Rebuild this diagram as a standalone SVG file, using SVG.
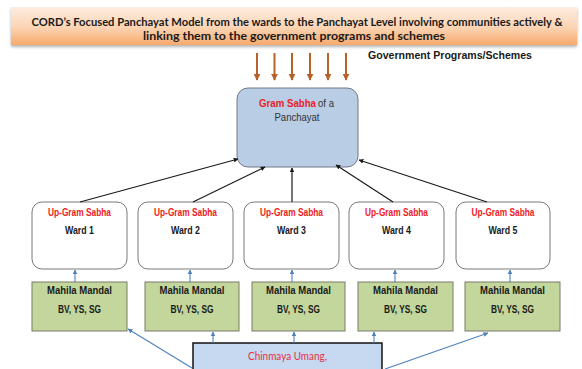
<svg xmlns="http://www.w3.org/2000/svg" width="582" height="369" viewBox="0 0 582 369">
<defs>
  <linearGradient id="hdr" x1="0" y1="0" x2="0" y2="1">
    <stop offset="0" stop-color="#FDEDE1"/>
    <stop offset="0.55" stop-color="#FBD3B2"/>
    <stop offset="1" stop-color="#F7A96B"/>
  </linearGradient>
  <filter id="sh" x="-5%" y="-20%" width="110%" height="160%">
    <feGaussianBlur in="SourceAlpha" stdDeviation="1.5"/>
    <feOffset dx="0" dy="2" result="b"/>
    <feComponentTransfer><feFuncA type="linear" slope="0.3"/></feComponentTransfer>
    <feMerge><feMergeNode/><feMergeNode in="SourceGraphic"/></feMerge>
  </filter>
  <marker id="ab" viewBox="0 0 10 10" refX="9" refY="5" markerWidth="4" markerHeight="4" orient="auto">
    <path d="M0,0 L10,5 L0,10 z" fill="#1a1a1a"/>
  </marker>
  <marker id="abl" viewBox="0 0 10 10" refX="9" refY="5" markerWidth="4.5" markerHeight="4.5" orient="auto">
    <path d="M0,0 L10,5 L0,10 z" fill="#4F81BD"/>
  </marker>
  <marker id="aor" viewBox="0 0 10 10" refX="9" refY="5" markerWidth="3.5" markerHeight="3.5" orient="auto">
    <path d="M0,0 L10,5 L0,10 z" fill="#B8612A"/>
  </marker>
</defs>
<style>
  .hdr { font-family: Lato, "Open Sans", "Liberation Sans", sans-serif; font-weight: bold; font-size: 11px; fill: #1a1a1a; }
  .ward { fill: #ffffff; stroke: #7a7a7a; stroke-width: 1; }
  .mm { fill: #C3D69B; stroke: #7a7a6a; stroke-width: 1; }
  .red { font-family: "Liberation Sans", Arial, sans-serif; font-size: 10px; font-weight: bold; fill: #EE1C25; }
  .blk { font-family: "Liberation Sans", Arial, sans-serif; font-size: 10px; font-weight: bold; fill: #1a1a1a; }
  .blk2 { font-family: "Liberation Sans", Arial, sans-serif; font-size: 10px; fill: #333333; }
  .cb { stroke: #1a1a1a; stroke-width: 1.2; fill: none; marker-end: url(#ab); }
  .cbl { stroke: #4F81BD; stroke-width: 1.1; fill: none; marker-end: url(#abl); }
  .cor { stroke: #B8612A; stroke-width: 2; fill: none; marker-end: url(#aor); }
</style>

<g id="header">
  <rect x="11" y="7" width="566" height="38" fill="url(#hdr)" filter="url(#sh)"/>
  <text class="hdr" x="297" y="26" text-anchor="middle" textLength="531" lengthAdjust="spacingAndGlyphs">CORD’s Focused Panchayat Model from the wards to the Panchayat Level involving communities actively &amp;</text>
  <text class="hdr" x="294" y="40" text-anchor="middle" textLength="302" lengthAdjust="spacingAndGlyphs">linking them to the government programs and schemes</text>
</g>

<g id="gov-label">
  <text class="blk" x="368" y="59" font-size="11" textLength="164" lengthAdjust="spacingAndGlyphs">Government Programs/Schemes</text>
</g>

<g id="gram-sabha">
  <rect x="237" y="88" width="121" height="79" rx="11" fill="#B9CDE5" stroke="#6f7a86" stroke-width="1"/>
  <text class="red" x="259" y="107" textLength="57" lengthAdjust="spacingAndGlyphs">Gram Sabha</text>
  <text class="blk2" x="318" y="107" textLength="16" lengthAdjust="spacingAndGlyphs">of a</text>
  <text class="blk2" x="297" y="121" text-anchor="middle" textLength="45" lengthAdjust="spacingAndGlyphs">Panchayat</text>
</g>

<g id="ward1">
  <rect class="ward" x="32" y="202" width="95" height="67" rx="10"/>
  <text class="red" x="79.5" y="216" text-anchor="middle" textLength="63" lengthAdjust="spacingAndGlyphs">Up-Gram Sabha</text>
  <text class="blk" x="79.5" y="234" text-anchor="middle" textLength="29" lengthAdjust="spacingAndGlyphs">Ward 1</text>
</g>
<g id="ward2">
  <rect class="ward" x="138" y="202" width="95" height="67" rx="10"/>
  <text class="red" x="185.5" y="216" text-anchor="middle" textLength="63" lengthAdjust="spacingAndGlyphs">Up-Gram Sabha</text>
  <text class="blk" x="185.5" y="234" text-anchor="middle" textLength="29" lengthAdjust="spacingAndGlyphs">Ward 2</text>
</g>
<g id="ward3">
  <rect class="ward" x="244" y="202" width="95" height="67" rx="10"/>
  <text class="red" x="291.5" y="216" text-anchor="middle" textLength="63" lengthAdjust="spacingAndGlyphs">Up-Gram Sabha</text>
  <text class="blk" x="291.5" y="234" text-anchor="middle" textLength="29" lengthAdjust="spacingAndGlyphs">Ward 3</text>
</g>
<g id="ward4">
  <rect class="ward" x="349" y="202" width="95" height="67" rx="10"/>
  <text class="red" x="396.5" y="216" text-anchor="middle" textLength="63" lengthAdjust="spacingAndGlyphs">Up-Gram Sabha</text>
  <text class="blk" x="396.5" y="234" text-anchor="middle" textLength="29" lengthAdjust="spacingAndGlyphs">Ward 4</text>
</g>
<g id="ward5">
  <rect class="ward" x="456" y="202" width="94" height="67" rx="10"/>
  <text class="red" x="503" y="216" text-anchor="middle" textLength="63" lengthAdjust="spacingAndGlyphs">Up-Gram Sabha</text>
  <text class="blk" x="503" y="234" text-anchor="middle" textLength="29" lengthAdjust="spacingAndGlyphs">Ward 5</text>
</g>

<g id="mm1">
  <rect class="mm" x="32" y="282" width="95" height="49"/>
  <text class="blk" x="79.5" y="294" text-anchor="middle" textLength="65" lengthAdjust="spacingAndGlyphs">Mahila Mandal</text>
  <text class="blk" x="79.5" y="313" text-anchor="middle" textLength="43" lengthAdjust="spacingAndGlyphs">BV, YS, SG</text>
</g>
<g id="mm2">
  <rect class="mm" x="145" y="282" width="94" height="49"/>
  <text class="blk" x="192" y="294" text-anchor="middle" textLength="65" lengthAdjust="spacingAndGlyphs">Mahila Mandal</text>
  <text class="blk" x="192" y="313" text-anchor="middle" textLength="43" lengthAdjust="spacingAndGlyphs">BV, YS, SG</text>
</g>
<g id="mm3">
  <rect class="mm" x="252" y="282" width="93" height="49"/>
  <text class="blk" x="298.5" y="294" text-anchor="middle" textLength="65" lengthAdjust="spacingAndGlyphs">Mahila Mandal</text>
  <text class="blk" x="298.5" y="313" text-anchor="middle" textLength="43" lengthAdjust="spacingAndGlyphs">BV, YS, SG</text>
</g>
<g id="mm4">
  <rect class="mm" x="358" y="282" width="95" height="49"/>
  <text class="blk" x="405.5" y="294" text-anchor="middle" textLength="65" lengthAdjust="spacingAndGlyphs">Mahila Mandal</text>
  <text class="blk" x="405.5" y="313" text-anchor="middle" textLength="43" lengthAdjust="spacingAndGlyphs">BV, YS, SG</text>
</g>
<g id="mm5">
  <rect class="mm" x="465" y="282" width="95" height="49"/>
  <text class="blk" x="512.5" y="294" text-anchor="middle" textLength="65" lengthAdjust="spacingAndGlyphs">Mahila Mandal</text>
  <text class="blk" x="512.5" y="313" text-anchor="middle" textLength="43" lengthAdjust="spacingAndGlyphs">BV, YS, SG</text>
</g>

<g id="chinmaya">
  <rect x="193" y="343" width="189" height="40" fill="#C6D9F1" stroke="#111111" stroke-width="1.5"/>
  <text x="287.5" y="360" text-anchor="middle" font-family="Lato, 'Open Sans', sans-serif" font-size="12" fill="#E8303F" textLength="79" lengthAdjust="spacingAndGlyphs">Chinmaya Umang,</text>
</g>

<g id="connectors">
  <line class="cor" x1="257" y1="53" x2="257" y2="80"/>
  <line class="cor" x1="274.5" y1="53" x2="274.5" y2="80"/>
  <line class="cor" x1="292" y1="53" x2="292" y2="80"/>
  <line class="cor" x1="310" y1="53" x2="310" y2="80"/>
  <line class="cor" x1="328" y1="53" x2="328" y2="80"/>
  <line class="cor" x1="346" y1="53" x2="346" y2="80"/>

  <line class="cb" x1="80" y1="202" x2="238" y2="159"/>
  <line class="cb" x1="193" y1="202" x2="265" y2="167"/>
  <line class="cb" x1="292" y1="202" x2="292" y2="168"/>
  <line class="cb" x1="393" y1="202" x2="336" y2="165"/>
  <line class="cb" x1="487" y1="202" x2="359" y2="160"/>

  <line class="cbl" x1="75" y1="282" x2="75" y2="270"/>
  <line class="cbl" x1="190" y1="282" x2="190" y2="270"/>
  <line class="cbl" x1="292" y1="282" x2="292" y2="270"/>
  <line class="cbl" x1="395" y1="282" x2="395" y2="270"/>
  <line class="cbl" x1="510" y1="282" x2="510" y2="270"/>

  <line class="cbl" x1="213" y1="343" x2="213" y2="332"/>
  <line class="cbl" x1="294" y1="343" x2="294" y2="332"/>
  <line class="cbl" x1="374" y1="343" x2="374" y2="332"/>
  <line class="cbl" x1="192" y1="368" x2="128" y2="329"/>
  <line class="cbl" x1="385" y1="369" x2="488" y2="333"/>
</g>
</svg>
